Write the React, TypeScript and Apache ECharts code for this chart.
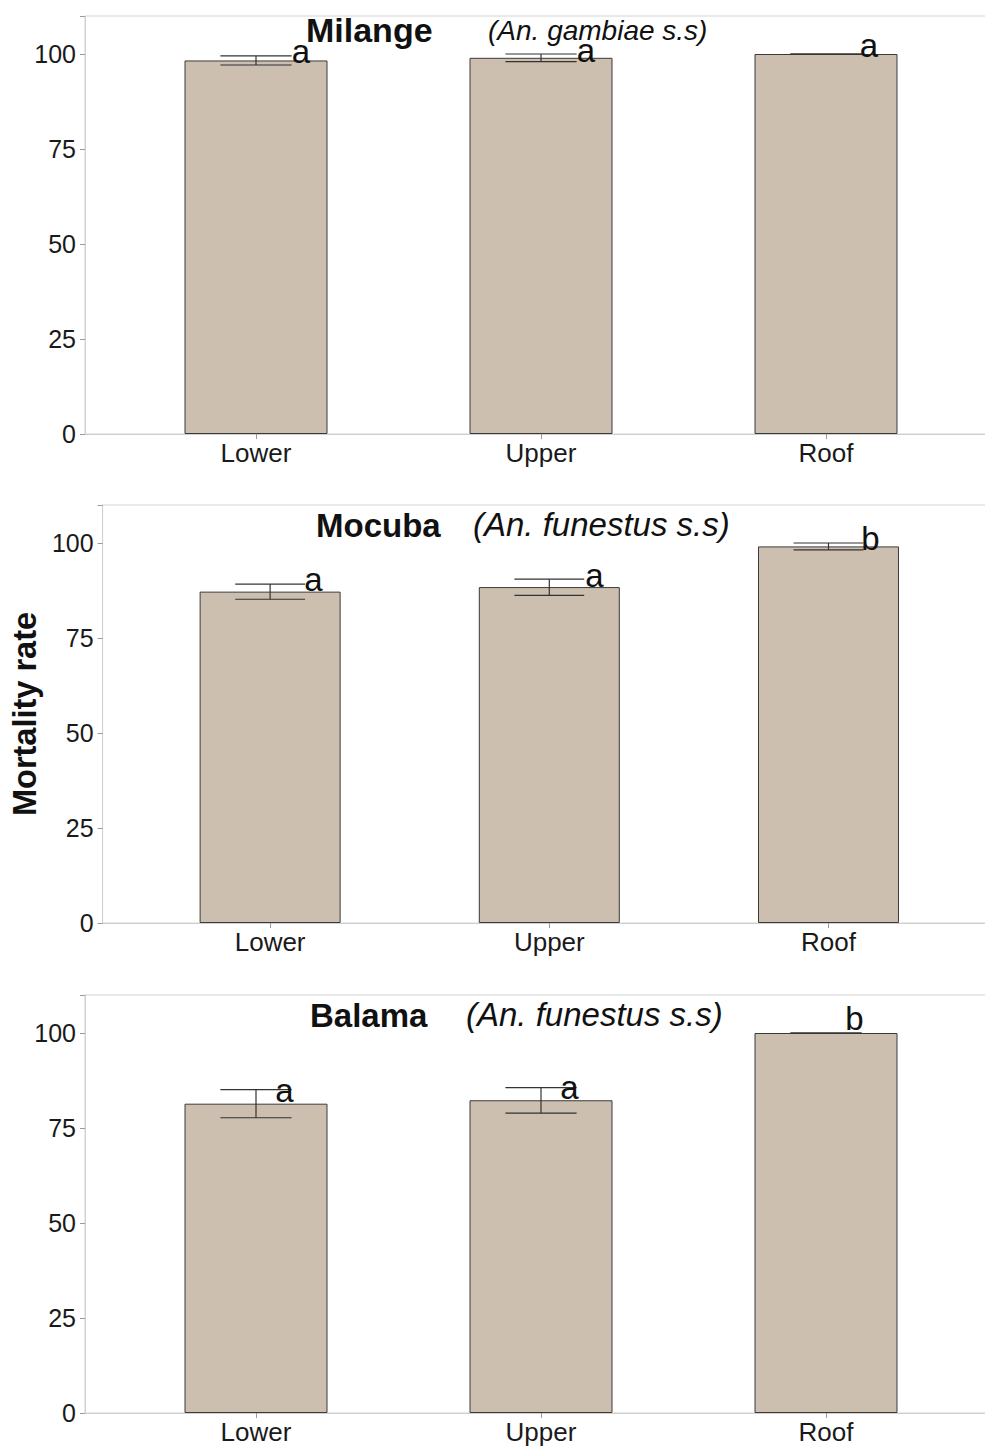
import React, { useEffect, useRef } from "react";
import * as echarts from "echarts";

const categories = ["Lower", "Upper", "Roof"];
const yTicks = [0, 25, 50, 75, 100];

const milangeMean = [98.3, 99.0, 100];
const milangeLow = [97.1, 98.0, 100];
const milangeHigh = [99.5, 100.0, 100];
const milangeLetters = ["a", "a", "a"];
const milangeLetterX = [1.158, 2.158, 3.151];
const milangeLetterY = [100.6, 100.9, 102.3];

const mocubaMean = [87.2, 88.4, 99.1];
const mocubaLow = [85.2, 86.2, 98.2];
const mocubaHigh = [89.2, 90.5, 100.0];
const mocubaLetters = ["a", "a", "b"];
const mocubaLetterX = [1.155, 2.162, 3.15];
const mocubaLetterY = [90.3, 91.5, 101.3];

const balamaMean = [81.4, 82.3, 100];
const balamaLow = [77.7, 78.9, 100];
const balamaHigh = [85.1, 85.6, 100];
const balamaLetters = ["a", "a", "b"];
const balamaLetterX = [1.1, 2.1, 3.1];
const balamaLetterY = [84.9, 85.7, 103.9];

const panels = [
  { site: "Milange", species: "(An. gambiae s.s)", mean: milangeMean, low: milangeLow, high: milangeHigh, letters: milangeLetters, lx: milangeLetterX, ly: milangeLetterY },
  { site: "Mocuba", species: "(An. funestus s.s)", mean: mocubaMean, low: mocubaLow, high: mocubaHigh, letters: mocubaLetters, lx: mocubaLetterX, ly: mocubaLetterY },
  { site: "Balama", species: "(An. funestus s.s)", mean: balamaMean, low: balamaLow, high: balamaHigh, letters: balamaLetters, lx: balamaLetterX, ly: balamaLetterY },
];

const FONT = "'Liberation Sans', Arial, Helvetica, sans-serif";

const layout = [
  { left: 85, top: 16, width: 912, barWidth: 143, title: { l: 306, t: 13, size: 34 }, sub: { l: 488, t: 16, size: 28 } },
  { left: 99, top: 505, width: 897, barWidth: 141, title: { l: 316, t: 509, size: 33 }, sub: { l: 473, t: 508, size: 33 } },
  { left: 85, top: 995, width: 912, barWidth: 143, title: { l: 310, t: 999, size: 33 }, sub: { l: 466, t: 998, size: 33 } },
];

export default function App() {
  const ref = useRef<HTMLDivElement>(null);
  useEffect(() => {
    if (!ref.current) return;
    const chart = echarts.init(ref.current, undefined, { renderer: "svg" });

    const grids: any[] = [];
    const xAxes: any[] = [];
    const yAxes: any[] = [];
    const series: any[] = [];
    const titles: any[] = [];

    panels.forEach((p, i) => {
      const L = layout[i];
      grids.push({
        left: L.left,
        top: L.top,
        width: L.width,
        height: 418,
        show: true,
        borderColor: "#d4d4d4",
        borderWidth: 1,
      });
      xAxes.push({
        type: "value",
        gridIndex: i,
        min: 0.4,
        max: 3.6,
        splitLine: { show: false },
        axisLine: { show: true, lineStyle: { color: "#cfcfcf", width: 1 } },
        axisTick: { show: true, customValues: [1, 2, 3], length: 5, lineStyle: { color: "#999" } },
        axisLabel: {
          customValues: [1, 2, 3],
          formatter: (v: number) => categories[Math.round(v) - 1] ?? "",
          color: "#1a1a1a",
          fontSize: 26,
          fontFamily: FONT,
          margin: 6,
        },
      });
      yAxes.push({
        type: "value",
        gridIndex: i,
        min: 0,
        max: 110,
        interval: 25,
        splitLine: { show: false },
        axisLine: { show: true, lineStyle: { color: "#cfcfcf", width: 1 } },
        axisTick: { show: true, length: 5, lineStyle: { color: "#999" } },
        axisLabel: {
          color: "#1a1a1a",
          fontSize: 25,
          fontFamily: FONT,
          margin: 9,
          formatter: (v: number) => (yTicks.includes(v) ? String(v) : ""),
        },
        ...(i === 1
          ? {
              name: "Mortality rate",
              nameLocation: "middle",
              nameRotate: 90,
              nameGap: 52,
              nameTextStyle: { fontSize: 32.5, fontWeight: "bold", color: "#111", fontFamily: FONT },
            }
          : {}),
      });
      series.push({
        type: "bar",
        xAxisIndex: i,
        yAxisIndex: i,
        barWidth: L.barWidth,
        data: p.mean.map((v, k) => [k + 1, v]),
        itemStyle: { color: "#CCBFAF", borderColor: "#3a3a3a", borderWidth: 1 },
        z: 2,
      });
      series.push({
        type: "custom",
        xAxisIndex: i,
        yAxisIndex: i,
        data: p.mean.map((_, k) => [k + 1, p.low[k], p.high[k]]),
        z: 5,
        renderItem: (params: any, api: any) => {
          const x = api.value(0);
          const lo = api.coord([x, api.value(1)]);
          const hi = api.coord([x, api.value(2)]);
          const hw = api.size([0.125, 0])[0];
          const st = { stroke: "#333", lineWidth: 1.2 };
          return {
            type: "group",
            children: [
              { type: "line", shape: { x1: lo[0], y1: lo[1], x2: hi[0], y2: hi[1] }, style: st },
              { type: "line", shape: { x1: hi[0] - hw, y1: hi[1], x2: hi[0] + hw, y2: hi[1] }, style: st },
              { type: "line", shape: { x1: lo[0] - hw, y1: lo[1], x2: lo[0] + hw, y2: lo[1] }, style: st },
            ],
          };
        },
      });
      series.push({
        type: "custom",
        xAxisIndex: i,
        yAxisIndex: i,
        data: p.letters.map((s, k) => [p.lx[k], p.ly[k], s]),
        z: 6,
        renderItem: (params: any, api: any) => {
          const pt = api.coord([api.value(0), api.value(1)]);
          const txt = p.letters[params.dataIndex];
          return {
            type: "text",
            x: pt[0],
            y: pt[1],
            style: {
              text: txt,
              font: `33px ${FONT}`,
              fill: "#111",
              align: "center",
              verticalAlign: "middle",
              textAlign: "center",
              textVerticalAlign: "middle",
            },
          };
        },
      });
      titles.push({
        text: p.site,
        left: L.title.l,
        top: L.title.t,
        padding: 0,
        textStyle: { fontSize: L.title.size, fontWeight: "bold", color: "#111", fontFamily: FONT, lineHeight: L.title.size },
      });
      titles.push({
        text: p.species,
        left: L.sub.l,
        top: L.sub.t,
        padding: 0,
        textStyle: { fontSize: L.sub.size, fontStyle: "italic", fontWeight: "normal", color: "#111", fontFamily: FONT, lineHeight: L.sub.size },
      });
    });

    chart.setOption({
      animation: false,
      backgroundColor: "#ffffff",
      title: titles,
      grid: grids,
      xAxis: xAxes,
      yAxis: yAxes,
      series,
    });
    return () => chart.dispose();
  }, []);
  return (
    <div style={{ position: "absolute", left: 0, top: 0, width: 985, height: 1448, overflow: "hidden", background: "#fff" }}>
      <div ref={ref} style={{ width: 1005, height: 1448 }} />
    </div>
  );
}
